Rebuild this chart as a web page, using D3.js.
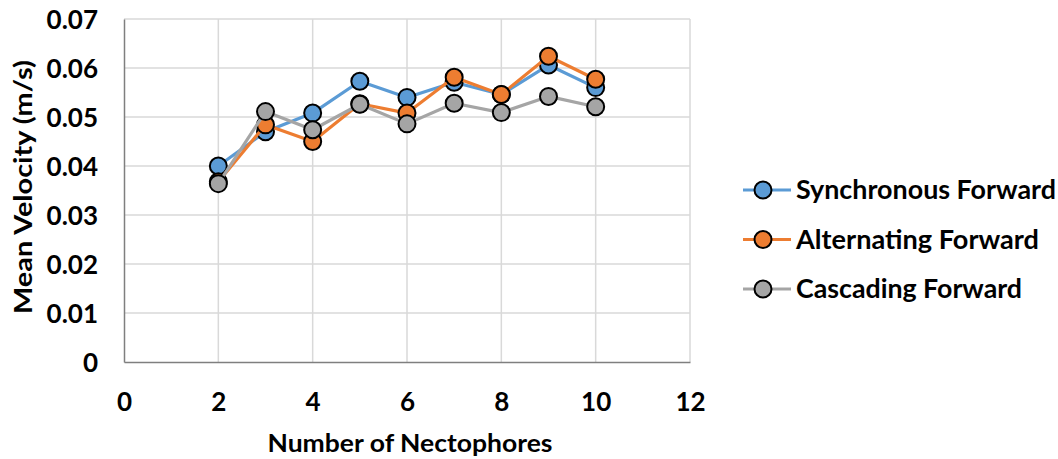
<!DOCTYPE html>
<html>
<head>
<meta charset="utf-8">
<script src="https://cdn.jsdelivr.net/npm/d3@7"></script>
<style>
  html, body { margin: 0; padding: 0; background: #fff; }
  svg { display: block; font-family: Lato, "Open Sans", sans-serif; }
</style>
</head>
<body>
<svg id="chart" width="1058" height="459"></svg>
<script>
// Number of nectophores on the x axis
const nectophores = [2, 3, 4, 5, 6, 7, 8, 9, 10];

// Mean velocity (m/s) for each swimming pattern
const synchronousForward = [0.0400, 0.0470, 0.0508, 0.0573, 0.0540, 0.0571, 0.0546, 0.0606, 0.0560];
const alternatingForward = [0.0368, 0.0484, 0.0450, 0.0527, 0.0508, 0.0581, 0.0546, 0.0624, 0.0577];
const cascadingForward   = [0.0364, 0.0511, 0.0474, 0.0526, 0.0486, 0.0528, 0.0509, 0.0542, 0.0521];

const seriesNames = ["Synchronous Forward", "Alternating Forward", "Cascading Forward"];
const seriesColors = ["#5B9BD5", "#ED7D31", "#A5A5A5"];

const xTicks = [0, 2, 4, 6, 8, 10, 12];
const yTicks = [0, 0.01, 0.02, 0.03, 0.04, 0.05, 0.06, 0.07];

const series = [synchronousForward, alternatingForward, cascadingForward].map((vals, i) => ({
  name: seriesNames[i],
  color: seriesColors[i],
  points: nectophores.map((n, j) => ({ x: n, y: vals[j] }))
}));

const svg = d3.select("#chart");
const plot = { left: 124, right: 690, top: 19, bottom: 362 };

const x = d3.scaleLinear().domain([0, 12]).range([plot.left, plot.right]);
const y = d3.scaleLinear().domain([0, 0.07]).range([plot.bottom, plot.top]);

// Gridlines
const grid = svg.append("g");
grid.selectAll("line.h").data(yTicks.filter(t => t > 0)).join("line")
  .attr("x1", plot.left).attr("x2", plot.right)
  .attr("y1", d => y(d)).attr("y2", d => y(d))
  .attr("stroke", "#D9D9D9").attr("stroke-width", 1.5);
grid.selectAll("line.v").data(xTicks.filter(t => t > 0)).join("line")
  .attr("y1", plot.top).attr("y2", plot.bottom)
  .attr("x1", d => x(d)).attr("x2", d => x(d))
  .attr("stroke", "#D9D9D9").attr("stroke-width", 1.5);

// Axes
const xAxis = svg.append("g")
  .attr("transform", `translate(0,${plot.bottom})`)
  .call(d3.axisBottom(x).tickValues(xTicks).tickSize(0).tickPadding(31).tickFormat(d3.format("d")));
const yAxis = svg.append("g")
  .attr("transform", `translate(${plot.left},0)`)
  .call(d3.axisLeft(y).tickValues(yTicks).tickSize(0).tickPadding(26)
    .tickFormat(d => d === 0 ? "0" : d3.format(".2f")(d)));

[xAxis, yAxis].forEach(ax => {
  ax.select(".domain").attr("stroke", "#7F7F7F").attr("stroke-width", 1.5);
  ax.selectAll("text")
    .attr("font-family", "Lato, 'Open Sans', sans-serif")
    .attr("font-size", 26).attr("font-weight", "bold").attr("fill", "#000");
});
yAxis.selectAll("text").attr("dy", "0.35em");

// Axis titles
svg.append("text")
  .attr("x", 410).attr("y", 452)
  .attr("text-anchor", "middle")
  .attr("font-size", 25).attr("font-weight", "bold")
  .attr("textLength", 285).attr("lengthAdjust", "spacingAndGlyphs")
  .text("Number of Nectophores");
svg.append("text")
  .attr("transform", `translate(32,187) rotate(-90)`)
  .attr("text-anchor", "middle")
  .attr("font-size", 25).attr("font-weight", "bold")
  .attr("textLength", 254).attr("lengthAdjust", "spacingAndGlyphs")
  .text("Mean Velocity (m/s)");

// Lines and markers
const line = d3.line().x(d => x(d.x)).y(d => y(d.y));
const seriesG = svg.append("g");
series.forEach(s => {
  const g = seriesG.append("g");
  g.append("path").datum(s.points)
    .attr("d", line).attr("fill", "none")
    .attr("stroke", s.color).attr("stroke-width", 3.2)
    .attr("stroke-linejoin", "round");
  g.selectAll("circle").data(s.points).join("circle")
    .attr("cx", d => x(d.x)).attr("cy", d => y(d.y))
    .attr("r", 8.5).attr("fill", s.color)
    .attr("stroke", "#000").attr("stroke-width", 2);
});

// Legend
const legendWidths = [260, 243, 226];
const legend = svg.append("g").attr("transform", "translate(743,190)");
series.forEach((s, i) => {
  const row = legend.append("g").attr("transform", `translate(0,${i * 49.5})`);
  row.append("line").attr("x1", 0).attr("x2", 48).attr("y1", 0).attr("y2", 0)
    .attr("stroke", s.color).attr("stroke-width", 3.2);
  row.append("circle").attr("cx", 20).attr("cy", 0).attr("r", 8.5)
    .attr("fill", s.color).attr("stroke", "#000").attr("stroke-width", 2);
  row.append("text").attr("x", 53).attr("y", 0).attr("dy", "0.35em")
    .attr("font-size", 26).attr("font-weight", "bold")
    .attr("textLength", legendWidths[i]).attr("lengthAdjust", "spacingAndGlyphs")
    .text(s.name);
});
</script>
</body>
</html>
